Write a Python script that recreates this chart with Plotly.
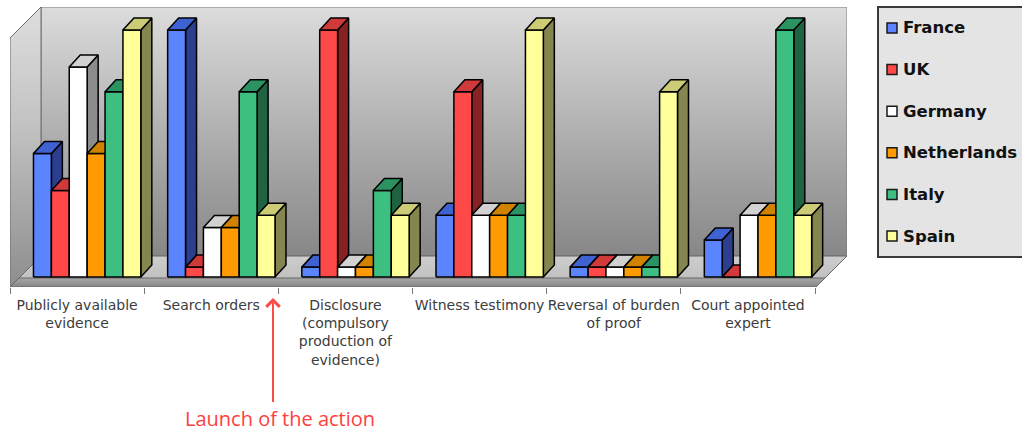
import plotly.graph_objects as go

# ---------------- data ----------------
categories = [
    "Publicly available<br>evidence",
    "Search orders",
    "Disclosure<br>(compulsory<br>production of<br>evidence)",
    "Witness testimony",
    "Reversal of burden<br>of proof",
    "Court appointed<br>expert",
]
countries = ["France", "UK", "Germany", "Netherlands", "Italy", "Spain"]
france = [2.0, 4.0, 0.16, 1.0, 0.16, 0.6]
uk = [1.4, 0.16, 4.0, 3.0, 0.16, 0.0]
germany = [3.4, 0.8, 0.16, 1.0, 0.16, 1.0]
netherlands = [2.0, 0.8, 0.16, 1.0, 0.16, 1.0]
italy = [3.0, 3.0, 1.4, 1.0, 0.16, 4.0]
spain = [4.0, 1.0, 1.0, 4.0, 3.0, 1.0]
series = [france, uk, germany, netherlands, italy, spain]

front_colors = ["#5b84ff", "#ff4848", "#ffffff", "#ff9a00", "#3dbf82", "#ffff99"]
top_colors = ["#3f62d2", "#d03a3a", "#d2d2d2", "#d08200", "#2b9262", "#cccc77"]
side_colors = ["#2c3f8e", "#862222", "#8c8c8c", "#8a5600", "#1f6342", "#85854f"]

# ---------------- geometry (pixels -> axis units) ----------------
W, H = 1022, 432
PL, PR, PT, PB = 10, 847, 7, 287
PX_PER_CAT = 134.17
PX_PER_VAL = 61.75
BASE_PX = 277

x_max = (PR - PL) / PX_PER_CAT
y_max = (BASE_PX - PT) / PX_PER_VAL
y_min = -(PB - BASE_PX) / PX_PER_VAL


def ux(px):
    return px / PX_PER_CAT


def uy(px):
    return px / PX_PER_VAL


def paper_x(px):
    return (px - PL) / (PR - PL)


def paper_y(py):
    return (PB - py) / (PB - PT)


WALL_DX, WALL_DY = ux(31), uy(31)
BAR_DX, BAR_DY = ux(11), uy(12)
SLAB = 9
GROUP_START = 0.175
BAR_W = 0.8 / len(series)
n_cat = len(categories)
x_front_end = x_max - WALL_DX

fig = go.Figure()

# back wall
bw_x = [WALL_DX, x_max, x_max, WALL_DX, WALL_DX]
bw_y = [y_min + WALL_DY, y_min + WALL_DY, y_max, y_max, y_min + WALL_DY]
fig.add_trace(go.Scatter(
    x=bw_x, y=bw_y, mode="lines", fill="toself",
    fillgradient=dict(type="vertical", colorscale=[[0, "#878787"], [0.5, "#b0b0b0"], [1, "#dcdcdc"]]),
    line=dict(color="#7a7a7a", width=1), hoverinfo="skip", showlegend=False))

# left side wall
lw_x = [0, 0, WALL_DX, WALL_DX, 0]
lw_y = [y_min, y_max - WALL_DY, y_max, y_min + WALL_DY, y_min]
fig.add_trace(go.Scatter(
    x=lw_x, y=lw_y, mode="lines", fill="toself",
    fillgradient=dict(type="vertical", colorscale=[[0, "#8e8e8e"], [0.6, "#c4c4c4"], [1, "#dedede"]]),
    line=dict(color="#6a6a6a", width=1), hoverinfo="skip", showlegend=False))

# floor top surface
fl_x = [0, x_front_end, x_max, WALL_DX, 0]
fl_y = [y_min, y_min, y_min + WALL_DY, y_min + WALL_DY, y_min]
fig.add_trace(go.Scatter(
    x=fl_x, y=fl_y, mode="lines", fill="toself",
    fillgradient=dict(type="vertical", colorscale=[[0, "#bcbcbc"], [1, "#cdcdcd"]]),
    line=dict(color="#666666", width=1), hoverinfo="skip", showlegend=False))

# darker front band of the floor
sb_x = [0, x_front_end, x_front_end + ux(SLAB), ux(SLAB), 0]
sb_y = [y_min, y_min, y_min + uy(SLAB), y_min + uy(SLAB), y_min]
fig.add_trace(go.Scatter(
    x=sb_x, y=sb_y, mode="lines", fill="toself",
    fillgradient=dict(type="vertical", colorscale=[[0, "#858585"], [1, "#a8a8a8"]]),
    line=dict(color="#666666", width=1), hoverinfo="skip", showlegend=False))

# bars (front, side, top faces), drawn left to right
for i, vals in enumerate(series):
    fx, fy, sx, sy, tx, ty = [], [], [], [], [], []
    for c, v in enumerate(vals):
        xl = c + GROUP_START + i * BAR_W
        xr = xl + BAR_W
        fx += [xl, xr, xr, xl, xl, None]
        fy += [0, 0, v, v, 0, None]
        sx += [xr, xr + BAR_DX, xr + BAR_DX, xr, xr, None]
        sy += [0, BAR_DY, v + BAR_DY, v, 0, None]
        tx += [xl, xr, xr + BAR_DX, xl + BAR_DX, xl, None]
        ty += [v, v, v + BAR_DY, v + BAR_DY, v, None]
    for xs, ys, col in ((sx, sy, side_colors[i]), (fx, fy, front_colors[i]), (tx, ty, top_colors[i])):
        fig.add_trace(go.Scatter(
            x=xs, y=ys, mode="lines", fill="toself", fillcolor=col,
            line=dict(color="#000000", width=1.5), name=countries[i],
            hoverinfo="skip", showlegend=False))

# ---------------- legend (drawn) ----------------
shapes = [dict(type="rect", xref="paper", yref="paper",
               x0=paper_x(878), x1=paper_x(1040), y0=paper_y(257), y1=paper_y(7),
               fillcolor="#e4e4e4", line=dict(color="#3a3a3a", width=2), layer="below")]
annotations = []
for i, name in enumerate(countries):
    cy = 28 + 41.6 * i
    shapes.append(dict(type="rect", xref="paper", yref="paper",
                       x0=paper_x(887), x1=paper_x(897), y0=paper_y(cy + 5), y1=paper_y(cy - 5),
                       fillcolor=front_colors[i], line=dict(color="#1a1a1a", width=1.5)))
    annotations.append(dict(x=paper_x(901), y=paper_y(cy), xref="paper", yref="paper",
                            text="<b>" + name + "</b>", showarrow=False,
                            xanchor="left", yanchor="middle",
                            font=dict(family="DejaVu Sans", size=16.5, color="#111111")))

# arrow and caption
annotations.append(dict(
    x=paper_x(273), y=paper_y(298), xref="paper", yref="paper",
    text=" ", showarrow=True, ax=0, ay=106,
    arrowhead=4, arrowsize=1.3, arrowwidth=2, arrowcolor="#ff4a4a", standoff=0,
    font=dict(size=1, color="rgba(0,0,0,0)")))
annotations.append(dict(
    x=paper_x(280), y=paper_y(418), xref="paper", yref="paper",
    text="Launch of the action", showarrow=False, xanchor="center", yanchor="middle",
    font=dict(family="Open Sans", size=20, color="#ff4040")))

fig.update_layout(
    width=W, height=H, autosize=False,
    margin=dict(l=PL, r=W - PR, t=PT, b=H - PB, pad=0),
    paper_bgcolor="white", plot_bgcolor="white",
    showlegend=False,
    shapes=shapes, annotations=annotations,
    xaxis=dict(
        range=[0, x_max], showgrid=False, zeroline=False, showline=False,
        tickmode="array", tickvals=[c + 0.5 for c in range(n_cat)], ticktext=categories,
        ticks="", tickangle=0, ticklabelstandoff=8,
        tickfont=dict(family="DejaVu Sans", size=14, color="#3c3c3c"),
        minor=dict(tickmode="array", tickvals=list(range(n_cat + 1)), ticks="outside",
                   ticklen=6, tickwidth=1, tickcolor="#7a7a7a", showgrid=False),
        fixedrange=True),
    yaxis=dict(range=[y_min, y_max], visible=False, fixedrange=True),
)

fig.write_html("out.html")
